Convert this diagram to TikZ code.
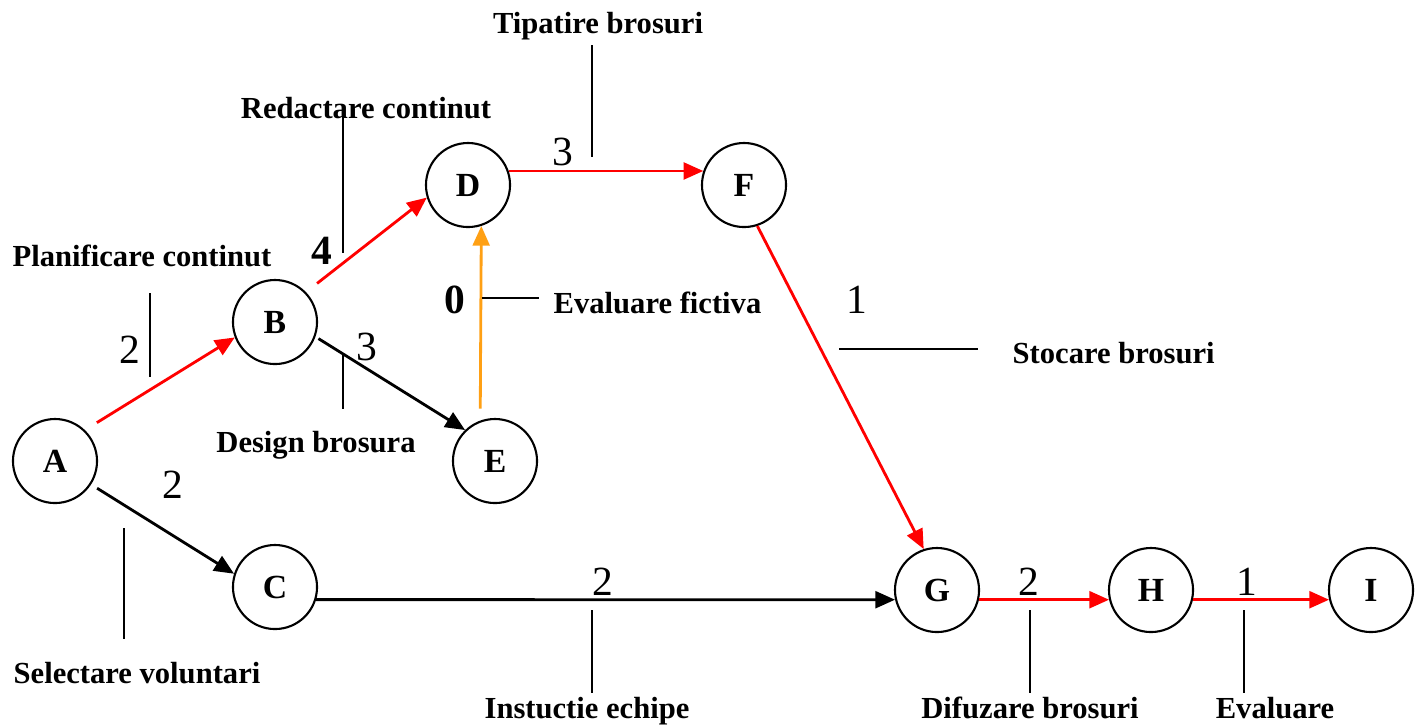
\documentclass[tikz,border=0pt]{standalone}
\usepackage{fontspec}
\setmainfont{Liberation Serif}
\usetikzlibrary{arrows.meta}
\definecolor{orng}{RGB}{255,160,20}
\begin{document}
\begin{tikzpicture}[x=0.01cm,y=-0.01cm,
  ev/.style={circle,draw,line width=0.6pt,minimum size=0.84cm,inner sep=0pt,font=\fontsize{9.6}{11}\selectfont\bfseries},
  act/.style={line width=0.8pt,-{Triangle[length=5.6pt,width=4.8pt]}},
  crit/.style={act,red},
  fict/.style={act,orng},
  lead/.style={line width=0.45pt},
  lbl/.style={anchor=base,inner sep=0pt,font=\fontsize{8.7}{10}\selectfont\bfseries},
  num/.style={anchor=base,inner sep=0pt,font=\fontsize{11.8}{14}\selectfont},
  bnum/.style={anchor=base,inner sep=0pt,font=\fontsize{11.8}{14}\selectfont\bfseries}]
\useasboundingbox (0,0) rectangle (1416,726);

% events
\node[ev] (A) at (55,461) {A};
\node[ev] (B) at (275,322) {B};
\node[ev] (C) at (275,587) {C};
\node[ev] (D) at (468,185) {D};
\node[ev] (E) at (495,461) {E};
\node[ev] (F) at (744,185) {F};
\node[ev] (G) at (937,590) {G};
\node[ev] (H) at (1151,590) {H};
\node[ev] (I) at (1371,590) {I};

% activities
\draw[crit,shorten <=4pt] (A.46) -- (B.201);
\draw[act,shorten <=2pt] (A.-33) -- (C.162);
\draw[crit,shorten <=4pt] (B.44) -- (D.197);
\draw[act,shorten <=1pt] (B.-20) -- (E.134);
\draw[fict] ([yshift=0.12cm]E.110) -- (D.-72);
\draw[crit] (D.19) -- (F.161);
\draw[crit] (F.-72) -- (G.108);
\draw[act] (C.-17) -- (G.193);
\draw[crit] (G.-13) -- (H.193);
\draw[crit] (H.-13) -- (I.193);

% durations
\node[num] (n1) at (130,363) {2};
\node[num] (n2) at (173,498) {2};
\node[bnum] (n3) at (322,264) {4};
\node[num] (n4) at (367,360) {3};
\node[bnum] (n5) at (455,313) {0};
\node[num] (n6) at (563,165) {3};
\node[num] (n7) at (857,313) {1};
\node[num] (n8) at (603,595) {2};
\node[num] (n9) at (1029,595) {2};
\node[num] (n10) at (1247,595) {1};

% labels
\node[lbl] (l1) at (598,33) {Tipatire brosuri};
\node[lbl] (l2) at (366,118) {Redactare continut};
\node[lbl] (l3) at (142,266) {Planificare continut};
\node[lbl,anchor=base west] (l4) at (553,313) {Evaluare fictiva};
\node[lbl,anchor=base west] (l5) at (1012,363) {Stocare brosuri};
\node[lbl] (l6) at (316,452) {Design brosura};
\node[lbl] (l7) at (137,683) {Selectare voluntari};
\node[lbl] (l8) at (587,718) {Instuctie echipe};
\node[lbl] (l9) at (1030,718) {Difuzare brosuri};
\node[lbl] (l10) at (1275,718) {Evaluare};

% leaders
\draw[lead] (592,45) -- (592,157);
\draw[lead] (343,112) -- (343,253);
\draw[lead] (150,293) -- (150,377);
\draw[lead] (343,353) -- (343,409);
\draw[lead] (482,298) -- (539,298);
\draw[lead] (839,349) -- (978,349);
\draw[lead] (124,528) -- (124,639);
\draw[lead] (592,610) -- (592,693);
\draw[lead] (1030,610) -- (1030,693);
\draw[lead] (1244,610) -- (1244,693);
\end{tikzpicture}
\end{document}
